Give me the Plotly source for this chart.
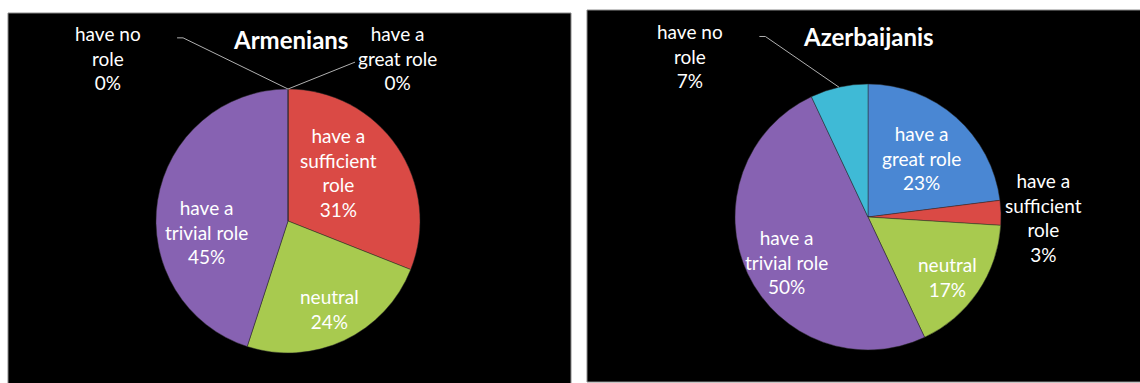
import math
import plotly.graph_objects as go

W, H = 1140, 383

# ---- data ----
categories = ["have a great role", "have a sufficient role", "neutral",
              "have a trivial role", "have no role"]
label_text = ["have a<br>great role", "have a<br>sufficient<br>role", "neutral",
              "have a<br>trivial role", "have no<br>role"]
armenians = [0, 31, 24, 45, 0]
azerbaijanis = [23, 3, 17, 50, 7]
titles = ["Armenians", "Azerbaijanis"]

colors = ["#4A87D3", "#DA4A45", "#A8CA4F", "#8762B2", "#3FBAD6"]

# ---- layout / style (page pixels) ----
pies = [
    dict(values=armenians, cx=288, cy=221, R=132, title_xy=(290, 40),
         panel=(8, 13, 571, 390),
         # per-label (angle adjust deg, radius fraction, leader end offset from label or None)
         lab=[(33.8, 1.485, (-42, 4)), (-10, 0.53, None), (0, 0.74, None),
              (-17, 0.62, None), (-47.8, 1.84, (75, -20))]),
    dict(values=azerbaijanis, cx=868, cy=217, R=133, title_xy=(868, 36),
         panel=(587, 10, 1150, 382),
         lab=[(1.1, 0.6, None), (1.8, 1.32, None), (2.6, 0.75, None),
              (-3.8, 0.70, None), (-35.3, 1.80, (75, -20))]),
]

def px(x):
    return x / W

def py(y):
    return 1 - y / H

fig = go.Figure()
shapes = []
annotations = []

for k, p in enumerate(pies):
    x0, y0, x1, y1 = p["panel"]
    shapes.append(dict(type="rect", xref="paper", yref="paper",
                       x0=px(x0), x1=px(x1), y0=py(y1), y1=py(y0),
                       fillcolor="black", line=dict(color="#8a8a8a", width=1),
                       layer="below"))
    cx, cy, R = p["cx"], p["cy"], p["R"]
    fig.add_trace(go.Pie(
        labels=categories, values=p["values"], sort=False,
        direction="clockwise", rotation=0,
        marker=dict(colors=colors, line=dict(color="rgba(40,40,40,0.6)", width=0.8)),
        textinfo="none", hoverinfo="label+percent", showlegend=False,
        domain=dict(x=[px(cx - R), px(cx + R)], y=[py(cy + R), py(cy - R)]),
    ))
    total = sum(p["values"])
    cum = 0
    for i, v in enumerate(p["values"]):
        mid = 360 * (cum + v / 2) / total
        cum += v
        adj, rf, lead = p["lab"][i]
        th = math.radians(mid + adj)
        lx = cx + rf * R * math.sin(th)
        ly = cy - rf * R * math.cos(th)
        pct = round(100 * v / total)
        annotations.append(dict(
            x=px(lx), y=py(ly), xref="paper", yref="paper",
            text=f"{label_text[i]}<br>{pct}%", showarrow=False,
            font=dict(family="Lato", size=19, color="white"),
            align="center", xanchor="center", yanchor="middle"))
        if lead is not None:
            tm = math.radians(mid)
            ex = cx + R * math.sin(tm)
            ey = cy - R * math.cos(tm)
            qx, qy = lx + lead[0], ly + lead[1]
            shapes.append(dict(type="line", xref="paper", yref="paper",
                               x0=px(ex), y0=py(ey), x1=px(qx), y1=py(qy),
                               line=dict(color="#b0b0b0", width=1)))
            if lead[0] > 0:
                shapes.append(dict(type="line", xref="paper", yref="paper",
                                   x0=px(qx), y0=py(qy), x1=px(qx - 6), y1=py(qy),
                                   line=dict(color="#b0b0b0", width=1)))
    tx, ty = p["title_xy"]
    annotations.append(dict(
        x=px(tx), y=py(ty), xref="paper", yref="paper",
        text=f"<b>{titles[k]}</b>", showarrow=False,
        font=dict(family="Lato", size=24, color="white"),
        xanchor="center", yanchor="middle"))

fig.update_layout(
    width=W, height=H, margin=dict(l=0, r=0, t=0, b=0),
    paper_bgcolor="white", plot_bgcolor="white",
    shapes=shapes, annotations=annotations,
)

fig.write_html(
    "out.html",
    config={"displayModeBar": False},
    post_script="document.body.style.margin='0';document.body.style.overflow='hidden';",
)
